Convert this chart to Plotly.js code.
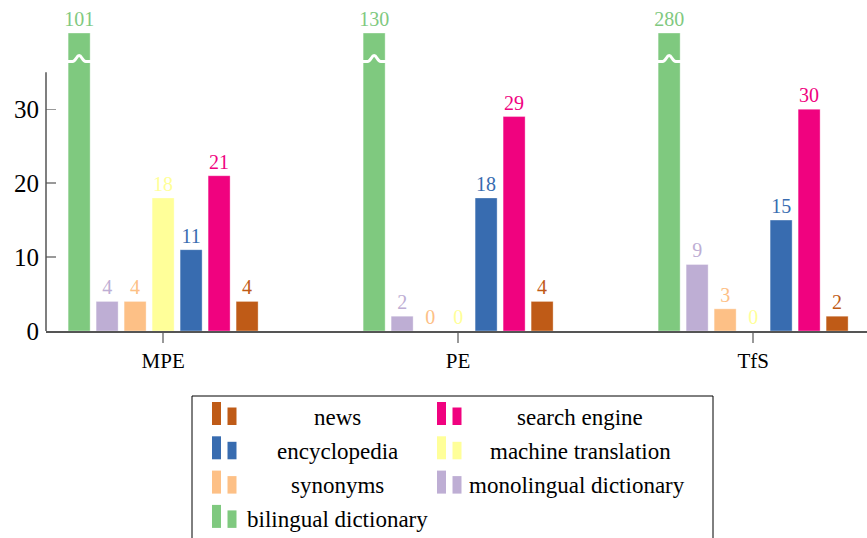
<!DOCTYPE html>
<html>
<head>
<meta charset="utf-8">
<script src="https://cdn.plot.ly/plotly-3.0.1.min.js"></script>
<style>html,body{margin:0;padding:0;background:#fff;}#chart{width:867px;height:538px;}</style>
</head>
<body>
<div id="chart"></div>
<script>
// ---- data ----
const groups = ['MPE', 'PE', 'TfS'];
const groupPos = [0, 1, 2];
const seriesNames = ['bilingual dictionary', 'monolingual dictionary', 'synonyms', 'machine translation', 'encyclopedia', 'search engine', 'news'];
const seriesColors = ['#7fc97f', '#beaed4', '#fdc086', '#ffff99', '#386cb0', '#f0027f', '#bf5b17'];
const bilingual = [101, 130, 280];
const monolingual = [4, 2, 9];
const synonyms = [4, 0, 3];
const machineTranslation = [18, 0, 0];
const encyclopedia = [11, 18, 15];
const searchEngine = [21, 29, 30];
const news = [4, 4, 2];
const legendOrder = [6, 5, 4, 3, 2, 1, 0];   // legend entries, filled row by row, 2 per row
const yTicks = [0, 10, 20, 30];

// ---- layout constants ----
const W = 867, H = 538;
const M = {l: 46, r: 0, t: 33, b: 207};
const AXIS_TOP = 35;     // visible y-axis extent
const CAP = 40.3;        // truncated-bar display height
const PITCH = 0.0949;    // bar pitch (data units)
const BARW = 0.0746;     // bar width (data units)
const FONT = '"Liberation Serif", "Times New Roman", Times, serif';

const PW = W - M.l - M.r, PH = H - M.t - M.b;
const px = X => (X - M.l) / PW;
const py = Y => (H - M.b - Y) / PH;

const allSeries = [bilingual, monolingual, synonyms, machineTranslation, encyclopedia, searchEngine, news];

const traces = allSeries.map((vals, k) => ({
  type: 'bar',
  name: seriesNames[k],
  x: groupPos,
  y: vals.map(v => Math.min(v, CAP)),
  text: vals.map(v => String(v)),
  textposition: 'outside',
  cliponaxis: false,
  constraintext: 'none',
  textfont: {family: FONT, size: 20, color: seriesColors[k]},
  width: BARW,
  offset: (k - 3) * PITCH - BARW / 2,
  marker: {color: seriesColors[k], line: {color: 'rgba(255,255,255,0.35)', width: 1}},
  showlegend: false,
  hoverinfo: 'skip'
}));

const shapes = [];
const annotations = [];

// break marks on truncated bars
bilingual.forEach((v, i) => {
  if (v > CAP) {
    const c = groupPos[i] + (0 - 3) * PITCH;
    const L = c - BARW / 2 - 0.004, R = c + BARW / 2 + 0.004;
    const lo = 36.45, hi = 37.25;
    shapes.push({
      type: 'path', xref: 'x', yref: 'y',
      path: `M ${L} ${lo} L ${c - BARW*0.3} ${lo} C ${c - BARW*0.15} ${lo} ${c - BARW*0.12} ${hi} ${c} ${hi} C ${c + BARW*0.12} ${hi} ${c + BARW*0.15} ${lo} ${c + BARW*0.3} ${lo} L ${R} ${lo}`,
      line: {color: '#ffffff', width: 3}
    });
  }
});
// y axis line (up to AXIS_TOP only)
shapes.push({type: 'line', xref: 'paper', yref: 'y', x0: 0, x1: 0, y0: 0, y1: AXIS_TOP, line: {color: '#555', width: 1.5}});

// ---- legend (drawn manually, pgfplots style) ----
const LEG = {left: 192, top: 396, right: 713, bottom: 545, row0: 425, rowStep: 34.3,
             colSym: [212, 437], colText: [337, 580], textMin: [243, 467]};
shapes.push({type: 'rect', xref: 'paper', yref: 'paper',
  x0: px(LEG.left), x1: px(LEG.right), y0: py(LEG.bottom), y1: py(LEG.top),
  line: {color: '#000', width: 1}, fillcolor: 'rgba(0,0,0,0)'});
legendOrder.forEach((k, j) => {
  const col = j % 2, row = Math.floor(j / 2);
  const base = LEG.row0 + row * LEG.rowStep;
  const sx = LEG.colSym[col];
  shapes.push({type: 'rect', xref: 'paper', yref: 'paper',
    x0: px(sx), x1: px(sx + 9), y0: py(base), y1: py(base - 23),
    line: {width: 0}, fillcolor: seriesColors[k]});
  shapes.push({type: 'rect', xref: 'paper', yref: 'paper',
    x0: px(sx + 15.5), x1: px(sx + 24.5), y0: py(base), y1: py(base - 17.5),
    line: {width: 0}, fillcolor: seriesColors[k]});
  const name = seriesNames[k];
  const long = name.length > 20;
  annotations.push({
    xref: 'paper', yref: 'paper',
    x: long ? px(LEG.textMin[col]) : px(LEG.colText[col]),
    xanchor: long ? 'left' : 'center',
    y: py(base - 8), yanchor: 'middle',
    text: name, showarrow: false,
    font: {family: FONT, size: 23, color: '#000'}
  });
});

const layout = {
  width: W, height: H,
  margin: {l: M.l, r: M.r, t: M.t, b: M.b, pad: 0},
  paper_bgcolor: '#fff', plot_bgcolor: '#fff',
  font: {family: FONT, color: '#000'},
  barmode: 'group',
  showlegend: false,
  xaxis: {
    range: [-0.397, 2.386],
    tickvals: groupPos, ticktext: groups,
    tickfont: {family: FONT, size: 21, color: '#000'},
    ticks: 'outside', ticklen: 10, tickcolor: '#999', tickwidth: 1.3,
    showline: true, linecolor: '#555', linewidth: 1.5,
    showgrid: false, zeroline: false, fixedrange: true
  },
  yaxis: {
    range: [0, CAP],
    tickvals: yTicks, ticktext: yTicks.map(String),
    tickfont: {family: FONT, size: 25, color: '#000'},
    ticks: 'inside', ticklen: 10, tickcolor: '#999', tickwidth: 1.3,
    ticklabelstandoff: 6,
    showline: false, showgrid: false, zeroline: false, fixedrange: true
  },
  shapes: shapes,
  annotations: annotations
};

Plotly.newPlot('chart', traces, layout, {displayModeBar: false, staticPlot: true});
</script>
</body>
</html>
